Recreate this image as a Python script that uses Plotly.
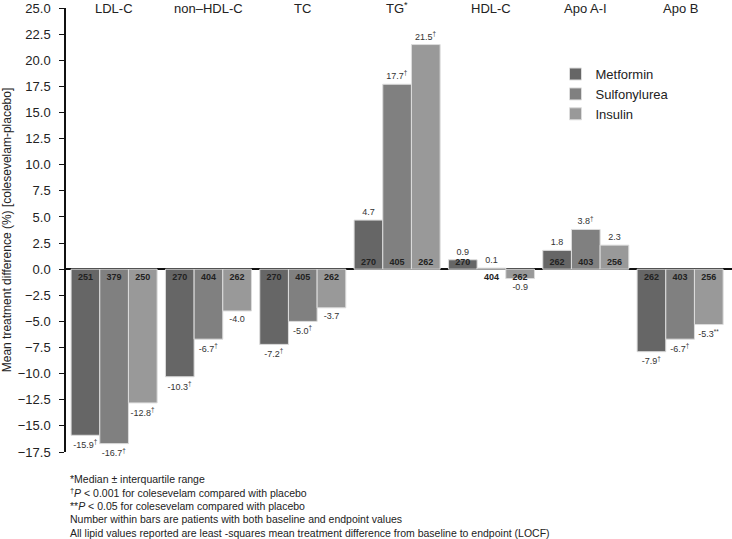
import plotly.graph_objects as go

categories = ["LDL-C", "non\u2013HDL-C", "TC", "TG<sup>*</sup>", "HDL-C", "Apo A-I", "Apo B"]
series_names = ["Metformin", "Sulfonylurea", "Insulin"]
metformin = [-15.9, -10.3, -7.2, 4.7, 0.9, 1.8, -7.9]
sulfonylurea = [-16.7, -6.7, -5.0, 17.7, 0.1, 3.8, -6.7]
insulin = [-12.8, -4.0, -3.7, 21.5, -0.9, 2.3, -5.3]
metformin_sig = ["\u2020", "\u2020", "\u2020", "", "", "", "\u2020"]
sulfonylurea_sig = ["\u2020", "\u2020", "\u2020", "\u2020", "", "\u2020", "\u2020"]
insulin_sig = ["\u2020", "", "", "\u2020", "", "", "**"]
metformin_n = [251, 270, 270, 270, 270, 262, 262]
sulfonylurea_n = [379, 404, 405, 405, 404, 403, 403]
insulin_n = [250, 262, 262, 262, 262, 256, 256]
y_ticks = [25.0, 22.5, 20.0, 17.5, 15.0, 12.5, 10.0, 7.5, 5.0, 2.5, 0.0, -2.5, -5.0, -7.5, -10.0, -12.5, -15.0, -17.5]
footnotes = [
    "*Median \u00b1 interquartile range",
    "<sup>\u2020</sup><i>P</i> < 0.001 for colesevelam compared with placebo",
    "**<i>P</i> < 0.05 for colesevelam compared with placebo",
    "Number within bars are patients with both baseline and endpoint values",
    "All lipid values reported are least -squares mean treatment difference from baseline to endpoint (LOCF)",
]

colors = ["#666666", "#808080", "#999999"]
values = [metformin, sulfonylurea, insulin]
sigs = [metformin_sig, sulfonylurea_sig, insulin_sig]
ns = [metformin_n, sulfonylurea_n, insulin_n]

FONT = "Liberation Sans, Arial, sans-serif"
bw = 0.304
fig = go.Figure()
for k in range(3):
    xs = [i + (k - 1) * bw for i in range(len(categories))]
    labels = [f"{v:.1f}" + (f"<sup>{s}</sup>" if s else "") for v, s in zip(values[k], sigs[k])]
    fig.add_trace(go.Bar(
        x=xs, y=values[k], width=bw, name=series_names[k],
        marker=dict(color=colors[k], line=dict(color="#dcdcdc", width=1)),
        text=labels, textposition="outside", constraintext="none",
        textfont=dict(size=9, color="#333333", family=FONT),
        cliponaxis=False,
    ))
    fig.add_trace(go.Scatter(
        x=xs, y=[0.62 if v >= 0.5 else -0.78 for v in values[k]],
        mode="text", text=[f"<b>{n}</b>" for n in ns[k]],
        textfont=dict(size=9, color="#222222", family=FONT),
        showlegend=False, hoverinfo="skip", cliponaxis=False,
    ))

annotations = []
for i, c in enumerate(categories):
    annotations.append(dict(x=i, y=25, xref="x", yref="y", text=c, showarrow=False,
                            yanchor="middle", yshift=0,
                            font=dict(size=13, color="#222222", family=FONT)))
for j, t in enumerate(footnotes):
    annotations.append(dict(x=0.003, y=-0.06 - j * 0.0305, xref="paper", yref="paper", text=t,
                            showarrow=False, xanchor="left", yanchor="middle", align="left",
                            font=dict(size=10.5, color="#222222", family=FONT)))

fig.update_layout(
    width=732, height=539,
    margin=dict(l=66, r=0, t=8, b=87, autoexpand=False),
    paper_bgcolor="white", plot_bgcolor="white",
    barmode="overlay",
    font=dict(family=FONT, color="#222222"),
    xaxis=dict(range=[-0.51, 6.55], showticklabels=False, showgrid=False, zeroline=False,
               showline=False, ticks="", automargin=False),
    yaxis=dict(range=[-17.5, 25], tickvals=y_ticks, tickformat=".1f", showgrid=False,
               zeroline=True, zerolinecolor="#111111", zerolinewidth=1.5,
               showline=True, linecolor="#111111", linewidth=1.5,
               ticks="outside", ticklen=5, tickwidth=1.2, tickcolor="#111111",
               ticklabelstandoff=6, automargin=False,
               tickfont=dict(size=13, color="#222222", family=FONT),
               title=dict(text="Mean treatment difference (%) [colesevelam-placebo]",
                          font=dict(size=12, color="#222222", family=FONT), standoff=4)),
    legend=dict(x=0.735, y=0.885, xanchor="left", yanchor="top",
                font=dict(size=13, color="#222222", family=FONT),
                bgcolor="rgba(0,0,0,0)", tracegroupgap=2),
    annotations=annotations,
    showlegend=True,
)
fig.write_html("out.html", config={"displayModeBar": False},
               post_script="document.body.style.margin='0';document.body.style.overflow='hidden';")
